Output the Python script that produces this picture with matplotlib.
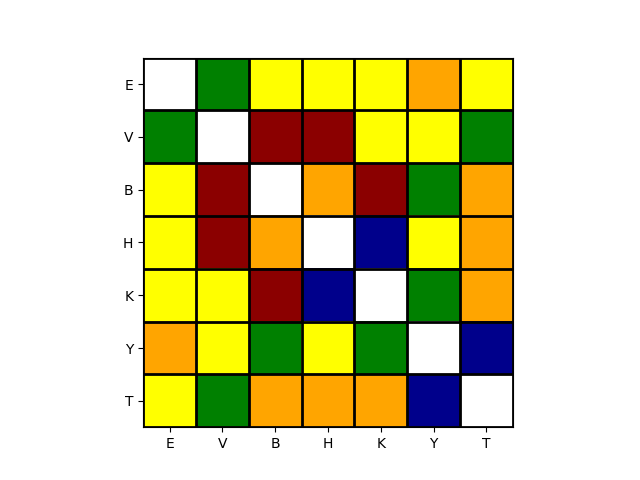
import numpy as np
import matplotlib
matplotlib.use("Agg")
import matplotlib.pyplot as plt
from matplotlib.colors import ListedColormap, BoundaryNorm

labels = ["E", "V", "B", "H", "K", "Y", "T"]
level_colors = ["white", "green", "yellow", "orange", "darkred", "darkblue"]
# 0 white, 1 green, 2 yellow, 3 orange, 4 darkred, 5 darkblue
grid_values = [
    [0, 1, 2, 2, 2, 3, 2],
    [1, 0, 4, 4, 2, 2, 1],
    [2, 4, 0, 3, 4, 1, 3],
    [2, 4, 3, 0, 5, 2, 3],
    [2, 2, 4, 5, 0, 1, 3],
    [3, 2, 1, 2, 1, 0, 5],
    [2, 1, 3, 3, 3, 5, 0],
]

data = np.array(grid_values)
cmap = ListedColormap(level_colors)
norm = BoundaryNorm(np.arange(-0.5, len(level_colors) + 0.5, 1), cmap.N)

fig, ax = plt.subplots(figsize=(6.4, 4.8), dpi=100)
ax.imshow(data, cmap=cmap, norm=norm)
ax.set_xticks(np.arange(len(labels)))
ax.set_yticks(np.arange(len(labels)))
ax.set_xticklabels(labels)
ax.set_yticklabels(labels)
ax.set_xticks(np.arange(-0.5, len(labels), 1), minor=True)
ax.set_yticks(np.arange(-0.5, len(labels), 1), minor=True)
ax.grid(which="minor", color="black", linewidth=2)
ax.tick_params(which="minor", length=0)
fig.savefig("out.png")
